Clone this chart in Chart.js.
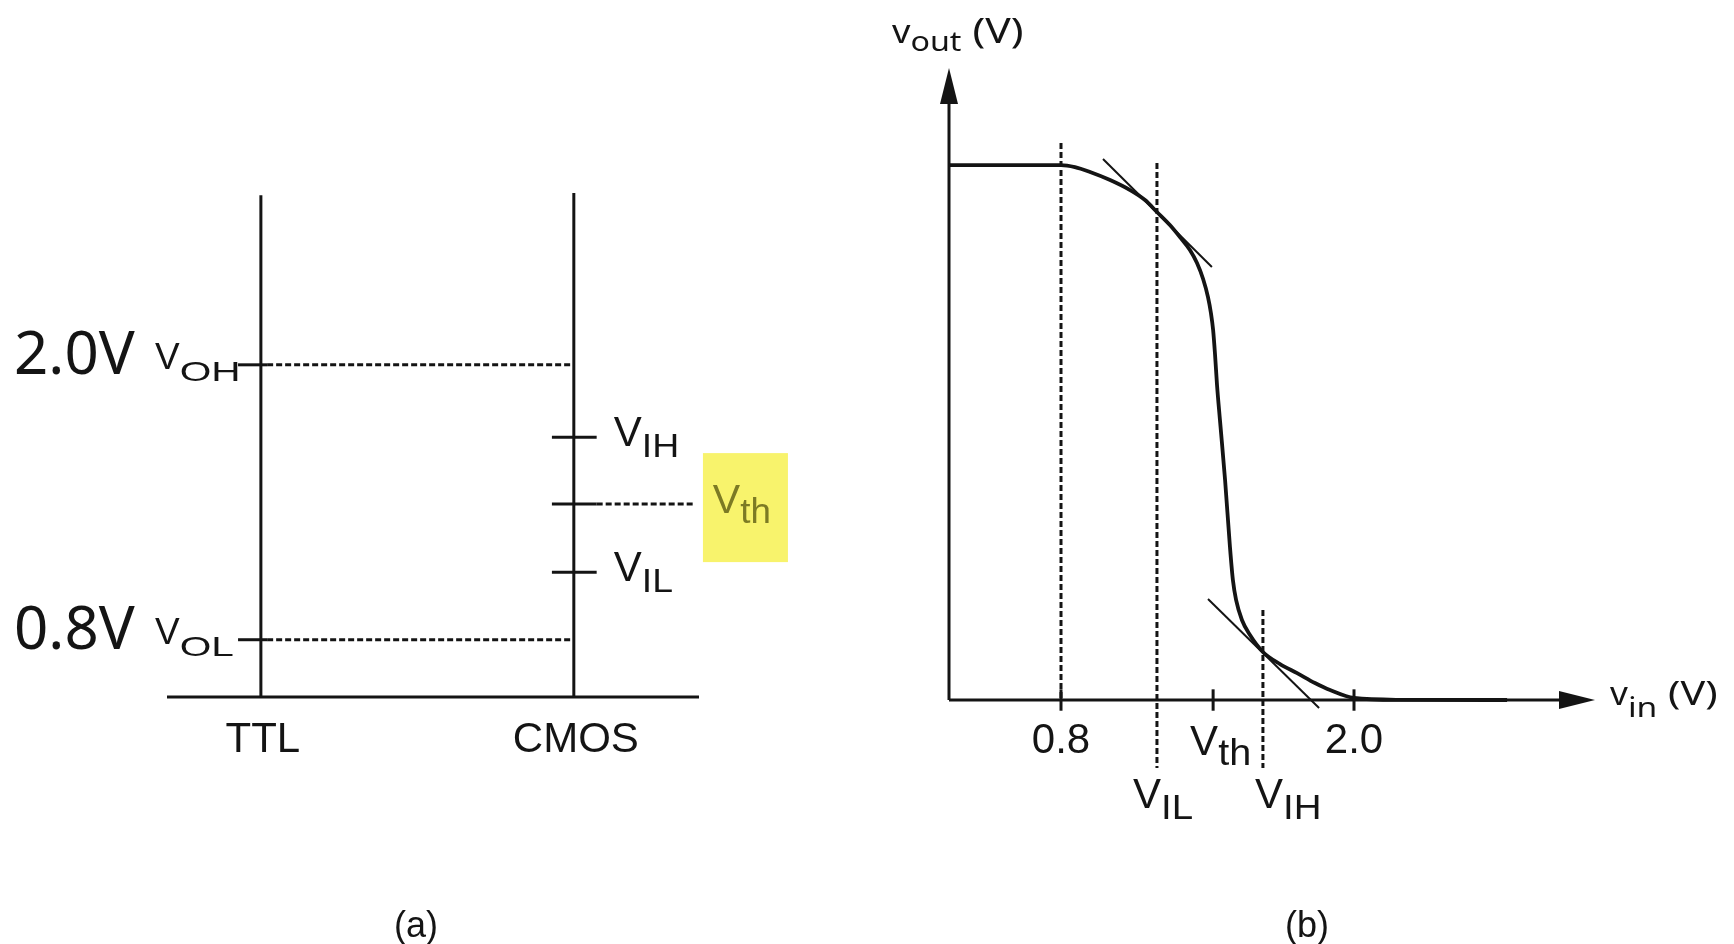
<!DOCTYPE html>
<html><head><meta charset="utf-8">
<script src="https://cdn.jsdelivr.net/npm/chart.js@4.4.1/dist/chart.umd.min.js"></script>
<style>
html,body{margin:0;padding:0;background:#fff;width:1734px;height:944px;overflow:hidden}
canvas{position:absolute;top:0}
#ca{left:0}
#cb{left:800px}
</style></head><body>
<canvas id="ca" width="800" height="944"></canvas>
<canvas id="cb" width="934" height="944"></canvas>
<script>
// ================= Panel (a): logic level comparison =================
const familyNames = ['TTL', 'CMOS'];
const familyX = [1, 2];
const rodTops = [2.74, 2.75];
const ttlLevelSubs = ['OH', 'OL'];
const ttlLevelValues = [2.0, 0.8];
const ttlLevelText = ['2.0V', '0.8V'];
const cmosLevelSubs = ['IH', 'th', 'IL'];
const cmosLevelValues = [1.684, 1.392, 1.095];
const ttlTickSpan = [0.927, 1.02];
const cmosTickSpan = [1.93, 2.073];
const vthDashEnd = 2.387;
const panelAX = [0.7, 2.4];
const panelAY = [0.55, 2.75];

// ================= Panel (b): voltage transfer characteristic =================
const vinSamples  = [0.341, 0.8, 0.857, 0.919, 1.001, 1.083, 1.144, 1.193, 1.246, 1.287, 1.328, 1.357, 1.382, 1.402, 1.414, 1.423, 1.431, 1.439, 1.451, 1.472, 1.492, 1.504, 1.517, 1.541, 1.574, 1.627, 1.697, 1.767, 1.840, 1.902, 2.0, 2.188, 2.627];
const voutSamples = [5.0,   5.0, 4.981, 4.935, 4.860, 4.766, 4.673, 4.561, 4.439, 4.327, 4.206, 4.084, 3.935, 3.766, 3.617, 3.458, 3.224, 2.944, 2.617, 2.056, 1.430, 1.121, 0.935, 0.748, 0.607, 0.449, 0.336, 0.252, 0.159, 0.093, 0.019, 0.002, 0.0];
const tangentHighIn = [0.972, 1.418];
const tangentHighOut = [5.056, 4.047];
const tangentLowIn = [1.402, 1.857];
const tangentLowOut = [0.944, -0.075];
const tickValues = [0.8, 1.423, 2.0];
const tickLabels = ['0.8', 'V|th', '2.0'];
const markerValues = [1.193, 1.627];      // V_IL, V_IH
const markerSubs = ['IL', 'IH'];
const markerTops = [5.019, 0.841];
const markerBottom = -0.636;
const dashAt08Top = 5.206;
const tickHalf = 0.10;
const panelBX = [0.3413, 2.987];
const panelBY = [-0.654, 5.907];
const axisEnds = [2.90, 5.76];

const INK = '#141414';
const LS = '"Liberation Sans", Arial, Helvetica, sans-serif';
const NS = '"Noto Sans", "DejaVu Sans", sans-serif';

function seg(pts, w, dash, extra) {
  return Object.assign({
    data: pts, showLine: true, borderColor: INK, backgroundColor: INK,
    borderWidth: w, borderDash: dash || [], pointRadius: 0, pointHoverRadius: 0,
    fill: false, clip: false, tension: 0, borderCapStyle: 'butt', borderJoinStyle: 'round'
  }, extra || {});
}

function richText(ctx, x, y, parts, align, color) {
  const widths = parts.map(p => { ctx.font = p.font; return ctx.measureText(p.t).width * (p.sx || 1); });
  const total = widths.reduce((a, b) => a + b, 0);
  let cx = align === 'center' ? x - total / 2 : x;
  parts.forEach((p, i) => {
    ctx.save();
    ctx.font = p.font; ctx.fillStyle = color || INK;
    ctx.textBaseline = 'alphabetic'; ctx.textAlign = 'left';
    ctx.translate(cx, y + (p.dy || 0)); ctx.scale(p.sx || 1, 1);
    ctx.fillText(p.t, 0, 0);
    ctx.restore();
    cx += widths[i];
  });
}

// ---------- Panel (a) chart ----------
const aSets = [];
familyX.forEach((fx, i) => aSets.push(seg([{x: fx, y: panelAY[0]}, {x: fx, y: rodTops[i]}], 3)));
aSets.push(seg([{x: panelAX[0], y: panelAY[0]}, {x: panelAX[1], y: panelAY[0]}], 3));
ttlLevelValues.forEach(v => {
  aSets.push(seg([{x: ttlTickSpan[0], y: v}, {x: ttlTickSpan[1], y: v}], 3));
  aSets.push(seg([{x: ttlTickSpan[1], y: v}, {x: familyX[1], y: v}], 3, [6, 3]));
});
cmosLevelValues.forEach(v => aSets.push(seg([{x: cmosTickSpan[0], y: v}, {x: cmosTickSpan[1], y: v}], 3)));
aSets.push(seg([{x: cmosTickSpan[1], y: cmosLevelValues[1]}, {x: vthDashEnd, y: cmosLevelValues[1]}], 3, [6, 3]));

const panelAText = {
  id: 'panelAText',
  beforeDatasetsDraw(chart) {
    const {ctx, scales: {x, y}} = chart;
    const px = x.getPixelForValue(vthDashEnd), py = y.getPixelForValue(cmosLevelValues[1]);
    ctx.save();
    ctx.fillStyle = '#f8f36c';
    ctx.fillRect(px + 8, py - 51, 85, 109);
    ctx.restore();
  },
  afterDatasetsDraw(chart) {
    const {ctx, scales: {x, y}, chartArea} = chart;
    ttlLevelValues.forEach((v, i) => {
      const py = y.getPixelForValue(v);
      richText(ctx, 14, py + 9, [{t: ttlLevelText[i], font: `60px ${NS}`}]);
      richText(ctx, 155, py + 4, [
        {t: 'V', font: `37px ${LS}`},
        {t: ttlLevelSubs[i], font: `28px ${LS}`, dy: 12, sx: 1.45}
      ]);
    });
    const cmosPx = x.getPixelForValue(familyX[1]);
    cmosLevelValues.forEach((v, i) => {
      const py = y.getPixelForValue(v);
      if (cmosLevelSubs[i] === 'th') {
        richText(ctx, cmosPx + 139, py + 9, [
          {t: 'V', font: `41px ${LS}`},
          {t: 'th', font: `35px ${LS}`, dy: 10, sx: 1.05}
        ], 'left', '#7c7a24');
      } else {
        richText(ctx, cmosPx + 40, py + 9, [
          {t: 'V', font: `42px ${LS}`},
          {t: cmosLevelSubs[i], font: `34px ${LS}`, dy: 11, sx: 1.1}
        ]);
      }
    });
    familyNames.forEach((n, i) => {
      richText(ctx, x.getPixelForValue(familyX[i]) + 2, chartArea.bottom + 55, [{t: n, font: `42px ${LS}`}], 'center');
    });
    richText(ctx, chartArea.left + 249, 937, [{t: '(a)', font: `36px ${LS}`}], 'center');
  }
};

new Chart(document.getElementById('ca'), {
  type: 'scatter',
  data: {datasets: aSets},
  options: {
    responsive: false, animation: false, events: [],
    layout: {padding: {left: 167, right: 101, top: 193, bottom: 247}},
    scales: {
      x: {type: 'linear', display: false, min: panelAX[0], max: panelAX[1]},
      y: {type: 'linear', display: false, min: panelAY[0], max: panelAY[1]}
    },
    plugins: {legend: {display: false}, tooltip: {enabled: false}}
  },
  plugins: [panelAText]
});

// ---------- Panel (b) chart ----------
const bSets = [];
bSets.push(seg([{x: 0.8, y: dashAt08Top}, {x: 0.8, y: 0}], 3, [6, 3]));
markerValues.forEach((v, i) => bSets.push(seg([{x: v, y: markerTops[i]}, {x: v, y: markerBottom}], 3, [6, 3])));
tickValues.forEach(v => bSets.push(seg([{x: v, y: -tickHalf}, {x: v, y: tickHalf}], 3)));
bSets.push(seg([{x: panelBX[0], y: 0}, {x: panelBX[0], y: axisEnds[1]}], 3));
bSets.push(seg([{x: panelBX[0], y: 0}, {x: axisEnds[0], y: 0}], 3));
bSets.push(seg(tangentHighIn.map((v, i) => ({x: v, y: tangentHighOut[i]})), 2));
bSets.push(seg(tangentLowIn.map((v, i) => ({x: v, y: tangentLowOut[i]})), 2));
bSets.push(seg(vinSamples.map((v, i) => ({x: v, y: voutSamples[i]})), 3.8, [], {cubicInterpolationMode: 'monotone'}));

const panelBText = {
  id: 'panelBText',
  afterDatasetsDraw(chart) {
    const {ctx, scales: {x, y}, chartArea} = chart;
    const ox = x.getPixelForValue(panelBX[0]), oy = y.getPixelForValue(0);
    const tipX = x.getPixelForValue(panelBX[1]), tipY = y.getPixelForValue(panelBY[1]);
    ctx.save();
    ctx.fillStyle = INK;
    ctx.beginPath(); ctx.moveTo(ox, tipY); ctx.lineTo(ox - 9, tipY + 36); ctx.lineTo(ox + 9, tipY + 36); ctx.closePath(); ctx.fill();
    ctx.beginPath(); ctx.moveTo(tipX, oy); ctx.lineTo(tipX - 36, oy - 9); ctx.lineTo(tipX - 36, oy + 9); ctx.closePath(); ctx.fill();
    ctx.restore();
    richText(ctx, ox - 57, tipY - 25, [
      {t: 'v', font: `33px ${NS}`, sx: 1.1},
      {t: 'out', font: `28px ${NS}`, dy: 8, sx: 1.15},
      {t: ' (V)', font: `34px ${NS}`, sx: 1.25}
    ]);
    richText(ctx, tipX + 15, oy + 5, [
      {t: 'v', font: `32px ${NS}`, sx: 1.1},
      {t: 'in', font: `28px ${NS}`, dy: 12, sx: 1.2},
      {t: ' (V)', font: `33px ${NS}`, sx: 1.25}
    ]);
    tickValues.forEach((v, i) => {
      const px = x.getPixelForValue(v);
      const lab = tickLabels[i];
      if (lab.indexOf('|') >= 0) {
        const [m, s] = lab.split('|');
        richText(ctx, px - 23, oy + 55, [
          {t: m, font: `42px ${LS}`},
          {t: s, font: `36px ${LS}`, dy: 10, sx: 1.1}
        ]);
      } else {
        richText(ctx, px, oy + 53, [{t: lab, font: `42px ${LS}`}], 'center');
      }
    });
    const markerDx = [-24, -8];
    markerValues.forEach((v, i) => {
      const px = x.getPixelForValue(v);
      richText(ctx, px + markerDx[i], oy + 108, [
        {t: 'V', font: `42px ${LS}`},
        {t: markerSubs[i], font: `35px ${LS}`, dy: 11, sx: 1.1}
      ]);
    });
    richText(ctx, chartArea.left + 358, 937, [{t: '(b)', font: `36px ${LS}`}], 'center');
  }
};

new Chart(document.getElementById('cb'), {
  type: 'scatter',
  data: {datasets: bSets},
  options: {
    responsive: false, animation: false, events: [],
    layout: {padding: {left: 149, right: 139, top: 68, bottom: 174}},
    scales: {
      x: {type: 'linear', display: false, min: panelBX[0], max: panelBX[1]},
      y: {type: 'linear', display: false, min: panelBY[0], max: panelBY[1]}
    },
    plugins: {legend: {display: false}, tooltip: {enabled: false}}
  },
  plugins: [panelBText]
});
</script>
</body></html>
